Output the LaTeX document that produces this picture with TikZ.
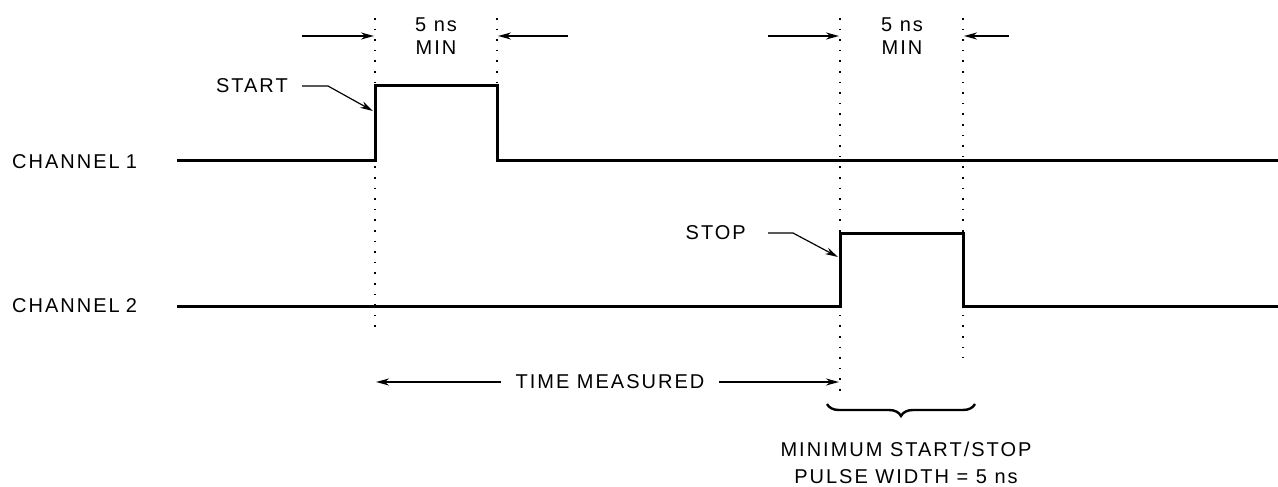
\documentclass[tikz,border=0pt]{standalone}
\usepackage{fontspec}
\setmainfont{Liberation Sans}[LetterSpace=10]
\usetikzlibrary{arrows.meta,decorations.pathreplacing}
\begin{document}
\begin{tikzpicture}[x=1pt,y=-1pt,
  signal/.style={line width=3pt, line join=miter, line cap=butt},
  guide/.style={line width=1.6pt, dash pattern=on 1.6pt off 9pt},
  dimarrow/.style={line width=1.6pt, -{Stealth[length=13pt,width=7pt]}},
  lead/.style={line width=1.2pt, -{Stealth[length=13pt,width=7pt]}},
  lbl/.style={font=\fontsize{20}{24}\selectfont, inner sep=0pt},
  bracestyle/.style={line width=2.4pt, decorate, decoration={brace, amplitude=12pt, mirror}}
]
\useasboundingbox (0,0) rectangle (1278,487);

% channel labels
\node[lbl, anchor=west] (ch1) at (12,162) {CHANNEL\hspace{6pt}1};
\node[lbl, anchor=west] (ch2) at (12,306) {CHANNEL\hspace{6pt}2};

% channel 1 signal
\coordinate (c1s) at (177,160);
\coordinate (c1r) at (375,160);
\coordinate (c1rt) at (375,86);
\coordinate (c1ft) at (497,86);
\coordinate (c1f) at (497,160);
\coordinate (c1e) at (1278,160);
\draw[signal] (c1s) -- (c1r) -- (c1rt) -- (c1ft) -- (c1f) -- (c1e);

% channel 2 signal
\coordinate (c2s) at (177,306);
\coordinate (c2r) at (840,306);
\coordinate (c2rt) at (840,233);
\coordinate (c2ft) at (963,233);
\coordinate (c2f) at (963,306);
\coordinate (c2e) at (1278,306);
\draw[signal] (c2s) -- (c2r) -- (c2rt) -- (c2ft) -- (c2f) -- (c2e);

% dotted guide lines
\coordinate (d1t) at (375,18);  \coordinate (d1b) at (375,335);
\coordinate (d2t) at (497,18);  \coordinate (d2b) at (497,84);
\coordinate (d3t) at (840,18);  \coordinate (d3b) at (840,398);
\coordinate (d4t) at (963,18);  \coordinate (d4b) at (963,358);
\draw[guide] (d1t) -- (d1b);
\draw[guide] (d2t) -- (d2b);
\draw[guide] (d3t) -- (d3b);
\draw[guide] (d4t) -- (d4b);

% top dimension arrows
\coordinate (a1s) at (302,36);  \coordinate (a1e) at (374,36);
\coordinate (a2s) at (568,36);  \coordinate (a2e) at (498,36);
\coordinate (a3s) at (768,36);  \coordinate (a3e) at (839,36);
\coordinate (a4s) at (1009,36); \coordinate (a4e) at (964,36);
\draw[dimarrow] (a1s) -- (a1e);
\draw[dimarrow] (a2s) -- (a2e);
\draw[dimarrow] (a3s) -- (a3e);
\draw[dimarrow] (a4s) -- (a4e);

\node[lbl] (w1a) at (436,25) {5 ns};
\node[lbl] (w1b) at (436,48) {MIN};
\node[lbl] (w2a) at (902,25) {5 ns};
\node[lbl] (w2b) at (902,48) {MIN};

% START / STOP labels with leaders
\node[lbl, anchor=east] (start) at (288,86) {START};
\coordinate (sb) at (328,86);
\coordinate (st) at (373,111);
\draw[lead, shorten <=14pt] (start.east) -- (sb) -- (st);

\node[lbl, anchor=east] (stop) at (746,233) {STOP};
\coordinate (pb) at (793,233);
\coordinate (pt) at (838,257);
\draw[lead, shorten <=22pt] (stop.east) -- (pb) -- (pt);

% time measured
\node[lbl, inner xsep=14pt] (tm) at (610,382) {TIME MEASURED};
\coordinate (tml) at (376,382);
\coordinate (tmr) at (839,382);
\draw[dimarrow] (tm.west) -- (tml);
\draw[dimarrow] (tm.east) -- (tmr);

% brace and note
\coordinate (bl) at (827,404);
\coordinate (br) at (975,404);
\draw[bracestyle] (bl) -- (br);
\node[lbl, align=center, font=\fontsize{20}{27}\selectfont] (note) at (906,463) {MINIMUM START/STOP\\PULSE WIDTH = 5 ns};
\end{tikzpicture}
\end{document}
